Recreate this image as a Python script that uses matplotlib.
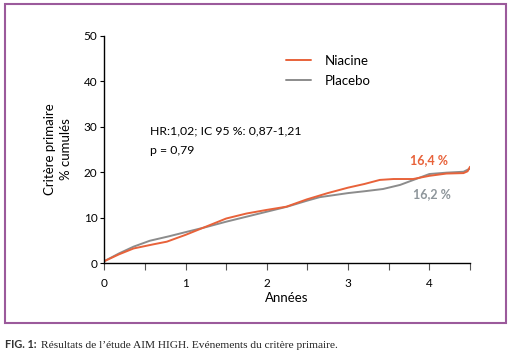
import matplotlib
matplotlib.use("Agg")
import matplotlib.pyplot as plt
from matplotlib.patches import Rectangle

# data
niacine_x = [0, 0.18, 0.36, 0.6, 0.77, 1.0, 1.25, 1.5, 1.75, 2.0, 2.24, 2.49, 2.75, 3.0, 3.2, 3.39, 3.56, 3.8, 4.0, 4.21, 4.42, 4.47, 4.5]
niacine_y = [0.4, 1.9, 3.2, 4.1, 4.7, 6.2, 8.0, 9.8, 10.9, 11.7, 12.4, 14.0, 15.4, 16.6, 17.4, 18.3, 18.5, 18.5, 19.2, 19.7, 19.8, 20.2, 21.2]
placebo_x = [0, 0.18, 0.36, 0.56, 0.8, 1.0, 1.25, 1.5, 1.75, 2.0, 2.25, 2.49, 2.65, 3.0, 3.2, 3.43, 3.64, 3.82, 4.0, 4.21, 4.42, 4.5]
placebo_y = [0.4, 2.1, 3.6, 4.9, 5.9, 6.8, 7.9, 9.1, 10.2, 11.3, 12.4, 13.7, 14.5, 15.4, 15.8, 16.3, 17.2, 18.4, 19.6, 19.9, 20.1, 20.8]
series_names = ["Niacine", "Placebo"]
end_labels = ["16,4 %", "16,2 %"]
y_ticks = [0, 10, 20, 30, 40, 50]
x_ticks_major = [0, 1, 2, 3, 4]
x_ticks_all = [0, 0.5, 1, 1.5, 2, 2.5, 3, 3.5, 4, 4.5]

ORANGE = "#E8623A"
GREY = "#8C8C8C"
plt.rcParams['font.family'] = ['Lato', 'DejaVu Sans']

fig = plt.figure(figsize=(5.1, 3.59), dpi=100)
ax = fig.add_axes([104.3 / 510, 1 - 263 / 359, (470 - 104.3) / 510, (263 - 36) / 359])

ax.plot(placebo_x, placebo_y, color=GREY, lw=1.4, label=series_names[1], solid_capstyle="round")
ax.plot(niacine_x, niacine_y, color=ORANGE, lw=1.4, label=series_names[0], solid_capstyle="round")

ax.set_xlim(0, 4.5)
ax.set_ylim(0, 50)
ax.spines["top"].set_visible(False)
ax.spines["right"].set_visible(False)
ax.spines["left"].set_linewidth(1.0)
ax.spines["bottom"].set_linewidth(1.0)
ax.set_yticks(y_ticks)
ax.set_yticklabels([str(v) for v in y_ticks], fontsize=8.5)
ax.set_xticks(x_ticks_all)
ax.set_xticklabels([str(int(v)) if v in x_ticks_major else "" for v in x_ticks_all], fontsize=8.5)
ax.tick_params(axis="y", length=3, width=0.8, pad=2)
ax.tick_params(axis="x", length=5, width=0.8, pad=6, color="#555555")

ax.set_xlabel("Années", fontsize=9.5, labelpad=2)
ax.set_ylabel("Critère primaire\n% cumulés", fontsize=9.5, labelpad=8, linespacing=1.45)

handles, labels = ax.get_legend_handles_labels()
leg = ax.legend(handles[::-1], labels[::-1], loc="upper left", bbox_to_anchor=(0.465, 0.97),
                frameon=False, fontsize=9.5, handlelength=1.9, handletextpad=1.0, labelspacing=0.6)

ax.text(0.125, 0.58, "HR:1,02; IC 95 %: 0,87-1,21", transform=ax.transAxes, fontsize=8.8, va="center")
ax.text(0.125, 0.497, "p = 0,79", transform=ax.transAxes, fontsize=8.8, va="center")

ax.text(4.0, 22.7, end_labels[0], color=ORANGE, fontsize=9, fontweight="bold", ha="center", va="center")
ax.text(4.03, 15.2, end_labels[1], color="#8E969B", fontsize=9, fontweight="bold", ha="center", va="center")

# purple frame around the chart
fig.patches.append(Rectangle((5 / 510, 1 - 323 / 359), 501 / 510, 319 / 359, transform=fig.transFigure,
                             fill=False, edgecolor="#9B5A9B", lw=1.5))

fig.text(5 / 510, 1 - 345 / 359, "FIG. 1:", fontsize=7.8, fontweight="bold", va="center", color="#333333")
fig.text(41 / 510, 1 - 345 / 359, "Résultats de l’étude AIM HIGH. Evénements du critère primaire.",
         fontsize=8.2, va="center", family=["Liberation Serif", "DejaVu Serif"], color="#222222")

fig.savefig("out.png", dpi=100)
